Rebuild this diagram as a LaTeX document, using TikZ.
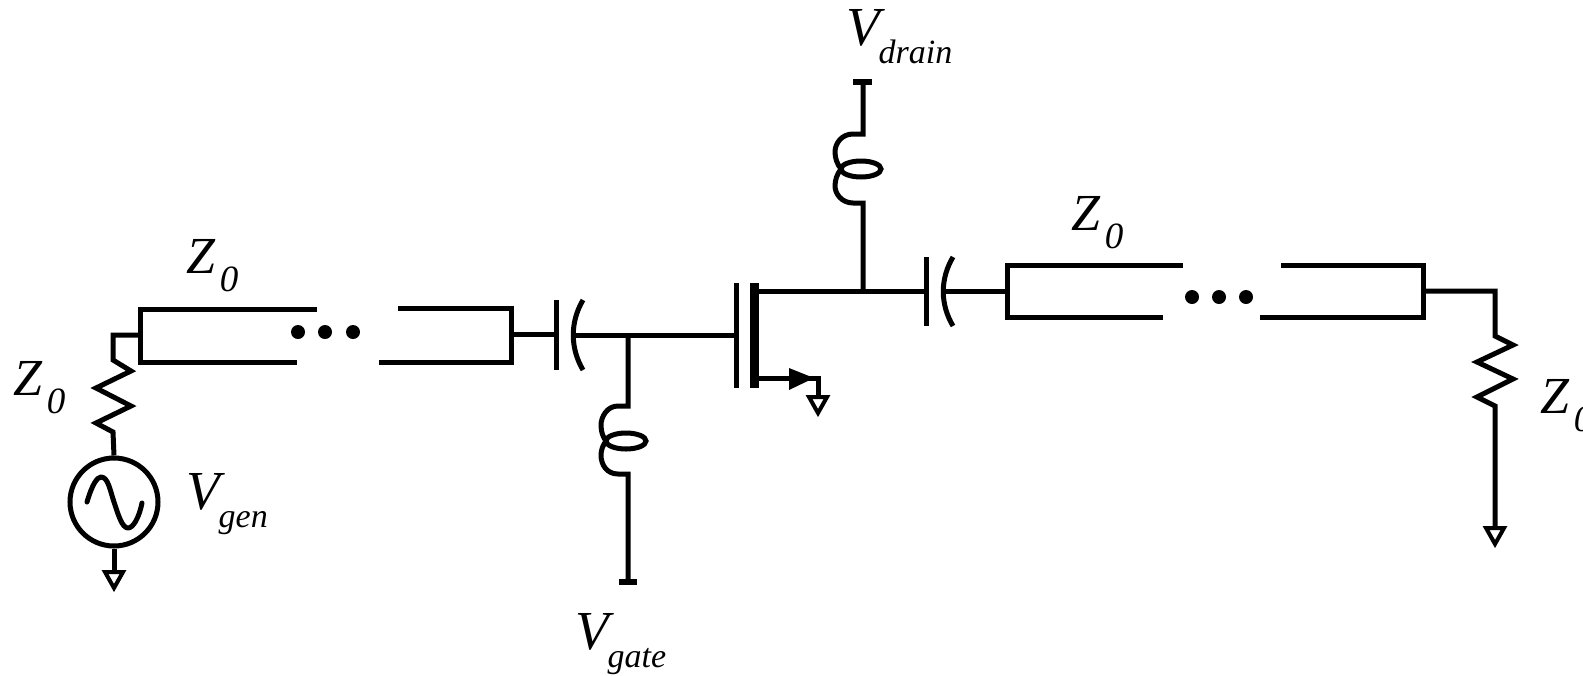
\documentclass[tikz,border=0pt]{standalone}
\usepackage{fontspec}
\setmainfont{Liberation Serif}
\newcommand{\zlab}[1]{{\fontsize{26}{26}\selectfont\itshape Z}\hspace{2.5pt}\raisebox{-9pt}{\fontsize{18.5}{18.5}\selectfont\itshape #1}}
\newcommand{\vlab}[1]{{\fontsize{27.5}{27.5}\selectfont\itshape V}\hspace{-0.7pt}\raisebox{-9pt}{\fontsize{17}{17}\selectfont\itshape #1}}
\tikzset{
  wire/.style={line width=2.5pt,line cap=butt,line join=miter,black},
  lab/.style={anchor=base west,inner sep=0pt,outer sep=0pt,black},
  dotmark/.style={circle,fill=black,inner sep=0pt,minimum size=7pt},
  gndtri/.style={line width=2pt,line join=miter,black,fill=white},
  endbar/.style={line width=2.6pt,black},
}
\begin{document}
\begin{tikzpicture}[x=0.5pt,y=-0.5pt]
\useasboundingbox (0,0) rectangle (1583,675);
% generator and left termination
\node[circle,draw,line width=2.5pt,minimum size=44pt,inner sep=0pt] (src) at (114,502) {};
\draw[wire,line cap=round,line join=round] (87,502) .. controls (92,485) and (97,477) .. (101,477) .. controls (108,477) and (110,490) .. (114,502) .. controls (118,514) and (122,528) .. (128,528) .. controls (133,528) and (139,518) .. (142,503);
\coordinate (g1) at (114,572);
\draw[wire] (src.south) -- (g1);
\draw[gndtri] (105,572) -- (123,572) -- (114,588) -- cycle;
\coordinate (r1a) at (113,360);
\coordinate (r1b) at (113,432);
\draw[wire] (src.north) -- (r1b) -- (96,423) -- (131,406) -- (96,388) -- (131,371) -- (r1a) -- (113,335) -- (140,335);
% left transmission line
\coordinate (t1l) at (140,335);
\coordinate (t1r) at (511,334);
\draw[wire] (317,309) -- (140,309) -- (140,362) -- (297,362);
\draw[wire] (398,308) -- (511,308) -- (511,362) -- (379,362);
\node[dotmark] (d1) at (298,332) {};
\node[dotmark] (d2) at (325,332) {};
\node[dotmark] (d3) at (353,332) {};
% input capacitor
\coordinate (c1p) at (556,335);
\coordinate (c1q) at (574,335);
\coordinate (gj) at (628,335);
\coordinate (gp) at (736,335);
\draw[wire] (t1r) -- (c1p |- t1r);
\draw[wire] (c1p |- 0,300) -- (c1p |- 0,370);
\draw[wire] (583,300) .. controls (570,322) and (570,348) .. (583,370);
\draw[wire] (c1q) -- (gj) -- (gp);
% gate bias
\coordinate (li1) at (628,406);
\coordinate (li2) at (628,474);
\coordinate (vg) at (628,582);
\draw[wire] (gj) -- (li1) -- (618,406) .. controls (607,406) and (601,417) .. (601,425) .. controls (601,432) and (603,437) .. (606,441) .. controls (603,445) and (601,450) .. (601,455) .. controls (601,465) and (607,474) .. (618,474) -- (li2) -- (vg);
\draw[wire] (626,441) ellipse [x radius=20,y radius=8];
\draw[endbar] (619,582) -- (637,582);
% FET
\draw[wire] (gp |- 0,283) -- (gp |- 0,388);
\fill[black] (750,283) rectangle (759,388);
\coordinate (dr) at (759,291);
\coordinate (dj) at (863,291);
\coordinate (c2p) at (926,291);
\draw[wire] (dr) -- (dj) -- (c2p);
\coordinate (so) at (759,378);
\coordinate (sg) at (818,397);
\draw[wire] (so) -- (818,378) -- (sg);
\fill[black] (789,368) -- (814,378) -- (789,390) -- cycle;
\draw[gndtri] (809,397) -- (827,397) -- (818,413) -- cycle;
% drain bias
\coordinate (ld1) at (863,203);
\coordinate (ld2) at (863,134);
\coordinate (vd) at (863,82);
\draw[wire] (dj) -- (ld1) -- (853,203) .. controls (842,203) and (835,194) .. (835,186) .. controls (835,180) and (837,174) .. (841,169) .. controls (837,164) and (835,158) .. (835,152) .. controls (835,143) and (842,134) .. (853,134) -- (ld2) -- (vd);
\draw[wire] (861,169) ellipse [x radius=20,y radius=8];
\draw[endbar] (853,82) -- (872,82);
% output capacitor
\draw[wire] (c2p |- 0,257) -- (c2p |- 0,326);
\draw[wire] (953,257) .. controls (940,279) and (940,304) .. (953,326);
\coordinate (c2q) at (944,291);
\coordinate (t2l) at (1007,291);
\draw[wire] (c2q) -- (t2l);
% right transmission line
\draw[wire] (1183,265) -- (1007,265) -- (1007,317) -- (1163,317);
\draw[wire] (1281,265) -- (1423,265) -- (1423,317) -- (1260,317);
\node[dotmark] (d4) at (1192,297) {};
\node[dotmark] (d5) at (1219,297) {};
\node[dotmark] (d6) at (1246,297) {};
% load
\coordinate (t2r) at (1423,291);
\coordinate (g3) at (1495,528);
\draw[wire] (t2r) -- (1495,291) -- (1495,336) -- (1513,345) -- (1477,362) -- (1513,379) -- (1477,397) -- (1495,406) -- (g3);
\draw[gndtri] (1486,528) -- (1504,528) -- (1495,544) -- cycle;
% labels
\node[lab] (zt1) at (186,273) {\zlab{0}};
\node[lab] (zl)  at (13,395) {\zlab{0}};
\node[lab] (vgen) at (186.5,509) {\vlab{gen}};
\node[lab] (vgate) at (575.5,649) {\vlab{gate}};
\node[lab] (vdrain) at (846.5,45) {\vlab{drain}};
\node[lab] (zt2) at (1071,230) {\zlab{0}};
\node[lab] (zr) at (1540,413) {\zlab{0}};
\end{tikzpicture}
\end{document}
